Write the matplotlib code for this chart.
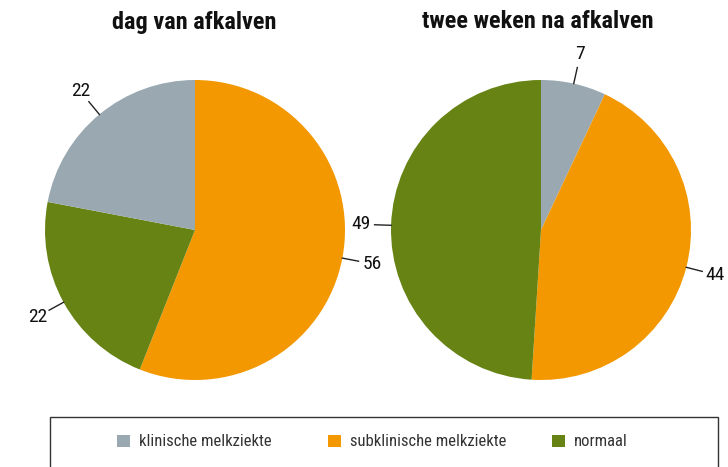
import numpy as np
import matplotlib.pyplot as plt
from matplotlib.patches import Patch, Rectangle

plt.rcParams['font.family'] = ['Roboto Condensed', 'DejaVu Sans']

# data
categories = ["klinische melkziekte", "subklinische melkziekte", "normaal"]
colors = {"klinische melkziekte": "#9aa9b1",
          "subklinische melkziekte": "#f39800",
          "normaal": "#668314"}

title_left = "dag van afkalven"
order_left = ["subklinische melkziekte", "normaal", "klinische melkziekte"]
values_left = [56, 22, 22]

title_right = "twee weken na afkalven"
order_right = ["klinische melkziekte", "subklinische melkziekte", "normaal"]
values_right = [7, 44, 49]

W, H = 728, 467
fig = plt.figure(figsize=(W / 100, H / 100), dpi=100)


def draw_pie(cx, title, order, values, title_x):
    r = 150
    ax = fig.add_axes([(cx - r) / W, (H - 230 - r) / H, 2 * r / W, 2 * r / H])
    wedges, _ = ax.pie(values, colors=[colors[c] for c in order],
                       startangle=90, counterclock=False, radius=1,
                       wedgeprops=dict(linewidth=0))
    ax.set_xlim(-1, 1)
    ax.set_ylim(-1, 1)
    ax.set_aspect('equal')
    ax.axis('off')
    # value labels with short leader lines
    for w, v in zip(wedges, values):
        ang = np.deg2rad((w.theta1 + w.theta2) / 2)
        x, y = np.cos(ang), np.sin(ang)
        ax.plot([x, 1.11 * x], [y, 1.11 * y], color='#222222', lw=1,
                clip_on=False)
        ax.text(1.2 * x, 1.2 * y, str(v), ha='center', va='center',
                fontsize=14, color='#111111', clip_on=False)
    fig.text(title_x / W, 1 - 22 / H, title, ha='center', va='center',
             fontsize=17.5, fontweight='bold', color='#111111')


draw_pie(195, title_left, order_left, values_left, 194)
draw_pie(541, title_right, order_right, values_right, 538)

# legend box
fig.patches.append(Rectangle((50 / W, -0.05), (718 - 50) / W, (0.05 + (H - 417) / H),
                             transform=fig.transFigure, fill=False,
                             edgecolor='#333333', lw=1))

# one legend entry per category, placed at the marker's left edge
legend_x = [117, 328, 552]
for c, lx in zip(categories, legend_x):
    fig.legend(handles=[Patch(facecolor=colors[c], edgecolor='none', label=c)],
               loc='center left', bbox_to_anchor=(lx / W, 1 - 442 / H),
               frameon=False, fontsize=12, handlelength=0.75,
               handleheight=0.75, handletextpad=0.55, borderpad=0,
               borderaxespad=0, labelcolor='#333333')

fig.savefig('out.png', dpi=100)
